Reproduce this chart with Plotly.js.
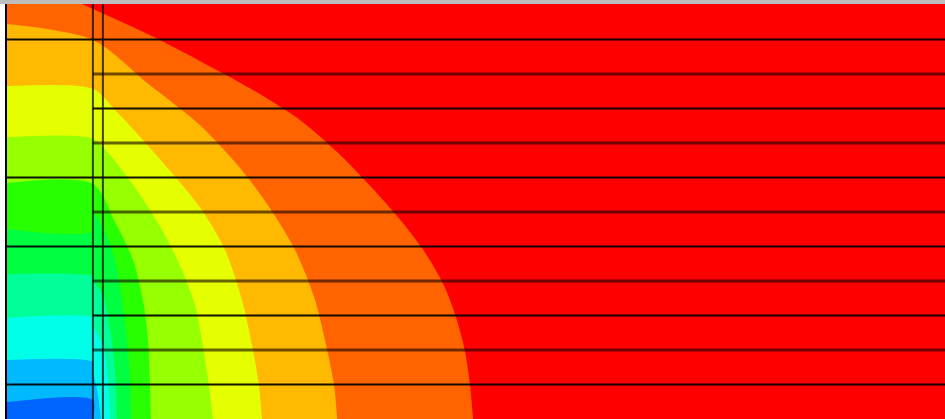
<!DOCTYPE html>
<html>
<head>
<meta charset="utf-8">
<script src="https://cdn.plot.ly/plotly-3.0.1.min.js"></script>
<style>
  html, body { margin: 0; padding: 0; background: #ffffff; }
  #plot { width: 945px; height: 419px; }
</style>
</head>
<body>
<div id="plot"></div>
<script>
// Isolines of the field, levels 1..10. Each one runs from the left (or top) edge
// down to the bottom edge; the area to its left is below that level.
const iso10X = [2.17, 4.14, 5.59, 7.04, 8.49, 9.57, 10.58, 11.45, 12.17, 12.70, 13.04, 13.28, 13.42, 13.51];
const iso10Y = [12.03, 11.13, 10.38, 9.59, 8.67, 7.74, 6.70, 5.71, 4.75, 3.80, 2.87, 1.94, 0.99, 0];

const iso9X = [0, 2.49, 4.14, 5.59, 6.75, 7.62, 8.35, 8.93, 9.28, 9.48, 9.57];
const iso9Y = [11.45, 10.99, 9.68, 8.52, 7.28, 6.12, 4.90, 3.45, 2.00, 0.99, 0];

const iso8X = [0, 2.49, 3.13, 3.94, 5.59, 6.32, 6.81, 7.13, 7.30, 7.39];
const iso8Y = [9.65, 9.57, 8.96, 8.09, 6.14, 4.90, 3.45, 2.00, 0.99, 0];

const iso7X = [0, 2.49, 2.99, 3.86, 4.58, 5.07, 5.45, 5.65, 5.83, 5.97];
const iso7Y = [8.17, 8.12, 7.65, 6.49, 5.33, 4.32, 3.30, 2.29, 1.13, 0];

const iso6X = [0, 2.49, 3.13, 3.65, 3.94, 4.09, 4.14, 4.17];
const iso6Y = [6.84, 6.81, 5.71, 4.61, 3.45, 2.29, 1.13, 0];

const iso5X = [0, 2.49, 2.49, 2.78, 3.13, 3.33, 3.48, 3.57, 3.59];
const iso5Y = [5.51, 5.45, 6.00, 5.54, 4.61, 3.45, 2.29, 1.13, 0];

const iso4X = [0, 2.49, 2.49, 2.78, 2.99, 3.13, 3.19];
const iso4Y = [4.20, 4.14, 4.03, 3.59, 2.58, 1.42, 0];

const iso3X = [0, 2.49, 2.49, 2.78, 2.93, 2.99];
const iso3Y = [2.93, 2.93, 2.72, 2.14, 1.13, 0];

const iso2X = [0, 2.49, 2.49, 2.64, 2.72];
const iso2Y = [1.71, 1.65, 1.42, 0.70, 0];

const iso1X = [0, 2.49, 2.49];
const iso1Y = [0.49, 0.55, 0];

// Band colours, lowest band first (below level 1) up to the band above level 10.
const bandColors = ['#0064ff', '#00b9ff', '#00ffe8', '#00ff99', '#00ff40',
                    '#28ff00', '#96ff00', '#e6ff00', '#ffb900', '#ff6400', '#ff0000'];

// Layer boundaries (horizontal) and the two interface columns (vertical).
const fullRows = [1, 5, 7, 11];
const innerRows = [2, 3, 4, 6, 8, 9, 10];
const dividerX = [2.49, 2.78];

const xMax = 27.19;
const yMax = 12.03;

const isolines = [
  [iso10X, iso10Y], [iso9X, iso9Y], [iso8X, iso8Y], [iso7X, iso7Y], [iso6X, iso6Y],
  [iso5X, iso5Y], [iso4X, iso4Y], [iso3X, iso3Y], [iso2X, iso2Y], [iso1X, iso1Y]
];

const traces = [];
// Fill from the highest level down so every lower band paints over the one above it.
isolines.forEach(function (pair, i) {
  const level = 10 - i;
  traces.push({
    type: 'scatter', mode: 'lines',
    x: pair[0], y: pair[1],
    fill: 'tozerox',
    fillcolor: bandColors[level - 1],
    line: { width: 0, color: bandColors[level - 1], shape: 'spline', smoothing: 0.8 },
    hoverinfo: 'skip', showlegend: false
  });
});

// Horizontal layer lines: odd rows sharp, even rows softer
function rowSegments(rows) {
  const x = [], y = [];
  rows.forEach(function (r) {
    const start = fullRows.indexOf(r) >= 0 ? 0 : dividerX[0];
    x.push(start, xMax, null); y.push(r, r, null);
  });
  return { x: x, y: y };
}
const allRows = fullRows.concat(innerRows);
const oddSeg = rowSegments(allRows.filter(function (r) { return r % 2 === 1; }));
const evenSeg = rowSegments(allRows.filter(function (r) { return r % 2 === 0; }));
traces.push({
  type: 'scatter', mode: 'lines', x: oddSeg.x, y: oddSeg.y,
  line: { color: 'rgba(0,0,0,0.92)', width: 2 },
  hoverinfo: 'skip', showlegend: false
});
traces.push({
  type: 'scatter', mode: 'lines', x: evenSeg.x, y: evenSeg.y,
  line: { color: 'rgba(20,0,0,0.6)', width: 3 },
  hoverinfo: 'skip', showlegend: false
});

// Vertical interface lines
const vx = [], vy = [];
dividerX.forEach(function (c) { vx.push(c, c, null); vy.push(0, yMax, null); });
traces.push({
  type: 'scatter', mode: 'lines', x: vx, y: vy,
  line: { color: 'rgba(0,0,0,0.72)', width: 2 },
  hoverinfo: 'skip', showlegend: false
});

const layout = {
  width: 945, height: 419,
  margin: { l: 7, r: 0, t: 4, b: 0, pad: 0 },
  paper_bgcolor: '#ffffff',
  plot_bgcolor: bandColors[10],
  showlegend: false,
  xaxis: {
    range: [0, xMax], showgrid: false, zeroline: false, showticklabels: false,
    ticks: '', showline: false, fixedrange: true
  },
  yaxis: {
    range: [0, yMax], showgrid: false, zeroline: false, showticklabels: false,
    ticks: '', showline: true, linecolor: '#000000', linewidth: 2, fixedrange: true
  },
  shapes: [{
    type: 'rect', xref: 'paper', yref: 'paper',
    x0: -0.01, x1: 1, y0: 1, y1: 1.0097,
    fillcolor: '#bdbdbd', line: { width: 0 }, layer: 'above'
  }]
};

Plotly.newPlot('plot', traces, layout, { staticPlot: true, displayModeBar: false });
</script>
</body>
</html>
